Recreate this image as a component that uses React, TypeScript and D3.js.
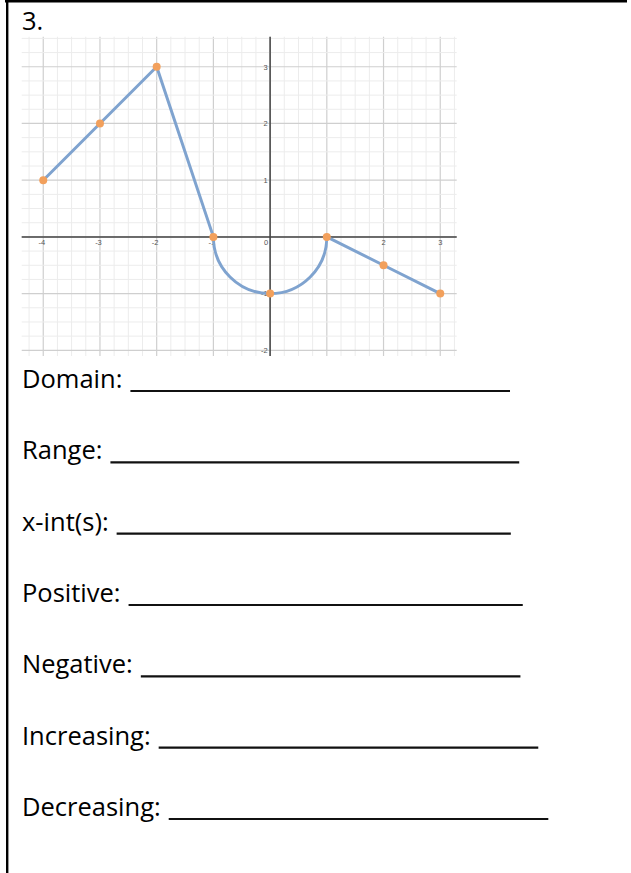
import { useEffect, useRef } from "react"
import * as d3 from "d3"

// plotted function
const rampX = [-4, -3, -2, -1]
const rampY = [1, 2, 3, 0]
const arcCenter = [0, 0]
const arcRadius = 1
const tailX = [1, 2, 3]
const tailY = [0, -0.5, -1]

// orange markers
const dotX = [-4, -3, -2, -1, 0, 1, 2, 3]
const dotY = [1, 2, 3, 0, -1, 0, -0.5, -1]

// tick labels shown on the axes
const xTickLabels = [-4, -3, -2, -1, 0, 2, 3]
const yTickLabels = [3, 2, 1, -1, -2]

// worksheet prompts and blank lengths (in underscores)
const prompts = ["Domain:", "Range:", "x-int(s):", "Positive:", "Negative:", "Increasing:", "Decreasing:"]
const blanks = [26, 28, 27, 27, 26, 26, 26]

export default function App() {
  const svgRef = useRef<SVGSVGElement>(null)

  useEffect(() => {
    if (!svgRef.current) return
    const svg = d3.select(svgRef.current)
    svg.selectAll("*").remove()

    const W = 631
    const H = 873

    // page border (top + left only)
    svg.append("line").attr("x1", 5).attr("x2", 627).attr("y1", 1.3).attr("y2", 1.3)
      .attr("stroke", "#000").attr("stroke-width", 2.6)
    svg.append("line").attr("x1", 7.2).attr("x2", 7.2).attr("y1", 0).attr("y2", H)
      .attr("stroke", "#000").attr("stroke-width", 2.4)

    svg.append("text").attr("x", 22).attr("y", 30)
      .attr("font-family", "'Open Sans', sans-serif").attr("font-size", 25.5)
      .attr("fill", "#000").text("3.")

    // graph scales
    const x = d3.scaleLinear().domain([-4.38, 3.29]).range([21.7, 456.7])
    const y = d3.scaleLinear().domain([3.53, -2.1]).range([36.7, 356])
    const [x0, x1] = x.range()
    const [y0, y1] = y.range()

    const g = svg.append("g")

    const minorX = d3.range(-4.25, 3.26, 0.25)
    const minorY = d3.range(-2, 3.51, 0.25)

    g.selectAll(".vminor").data(minorX).enter().append("line")
      .attr("x1", d => x(d)).attr("x2", d => x(d)).attr("y1", y0).attr("y2", y1)
      .attr("stroke", d => Number.isInteger(d) ? "#cfcfcf" : "#ececec")
      .attr("stroke-width", d => Number.isInteger(d) ? 1.2 : 1)
    g.selectAll(".hminor").data(minorY).enter().append("line")
      .attr("y1", d => y(d)).attr("y2", d => y(d)).attr("x1", x0).attr("x2", x1)
      .attr("stroke", d => Number.isInteger(d) ? "#cfcfcf" : "#ececec")
      .attr("stroke-width", d => Number.isInteger(d) ? 1.2 : 1)

    // axes
    g.append("line").attr("x1", x0).attr("x2", x1).attr("y1", y(0)).attr("y2", y(0))
      .attr("stroke", "#444").attr("stroke-width", 1.5)
    g.append("line").attr("x1", x(0)).attr("x2", x(0)).attr("y1", y0).attr("y2", y1)
      .attr("stroke", "#444").attr("stroke-width", 1.5)

    // tick labels
    g.selectAll(".xl").data(xTickLabels).enter().append("text")
      .attr("x", d => d === 0 ? x(d) - 2 : x(d) - (d < 0 ? 1.5 : 0))
      .attr("y", y(0) + 8.5)
      .attr("text-anchor", d => d === 0 ? "end" : "middle")
      .attr("font-family", "'Liberation Sans', Arial, sans-serif").attr("font-size", 7.5)
      .attr("fill", "#555").text(d => d)
    g.selectAll(".yl").data(yTickLabels).enter().append("text")
      .attr("x", x(0) - 2.5).attr("y", d => y(d) + 2.8)
      .attr("text-anchor", "end")
      .attr("font-family", "'Liberation Sans', Arial, sans-serif").attr("font-size", 7.5)
      .attr("fill", "#555").text(d => d)

    // function curve
    const p = d3.path()
    rampX.forEach((d, i) => {
      if (i === 0) p.moveTo(x(d), y(rampY[i]))
      else p.lineTo(x(d), y(rampY[i]))
    })
    const r = x(arcRadius) - x(0)
    p.arc(x(arcCenter[0]), y(arcCenter[1]), r, Math.PI, 0, true)
    tailX.forEach((d, i) => p.lineTo(x(d), y(tailY[i])))

    g.append("path").attr("d", p.toString()).attr("fill", "none")
      .attr("stroke", "#7fa3cf").attr("stroke-width", 3)
      .attr("stroke-linejoin", "round").attr("stroke-linecap", "round")

    g.selectAll(".dot").data(dotX).enter().append("circle")
      .attr("cx", d => x(d)).attr("cy", (_d, i) => y(dotY[i]))
      .attr("r", 4).attr("fill", "#f2a05c")

    // prompts with blanks
    const rowY = d3.scaleLinear().domain([0, prompts.length - 1]).range([388, 816])
    const underscoreW = 14.6
    prompts.forEach((label, i) => {
      const t = svg.append("text").attr("x", 22).attr("y", rowY(i))
        .attr("font-family", "'Open Sans', sans-serif").attr("font-size", 25.5)
        .attr("fill", "#000").text(label)
      const w = (t.node() as SVGTextElement).getComputedTextLength()
      const start = 22 + w + 8
      svg.append("line").attr("x1", start).attr("x2", start + blanks[i] * underscoreW)
        .attr("y1", rowY(i) + 3).attr("y2", rowY(i) + 3)
        .attr("stroke", "#111").attr("stroke-width", 2.2)
    })

    svg.attr("width", W).attr("height", H)
  }, [])

  return (
    <div style={{ position: "absolute", left: 0, top: 0 }}>
      <svg ref={svgRef} width={631} height={873} style={{ display: "block", background: "#fff" }} />
    </div>
  )
}
